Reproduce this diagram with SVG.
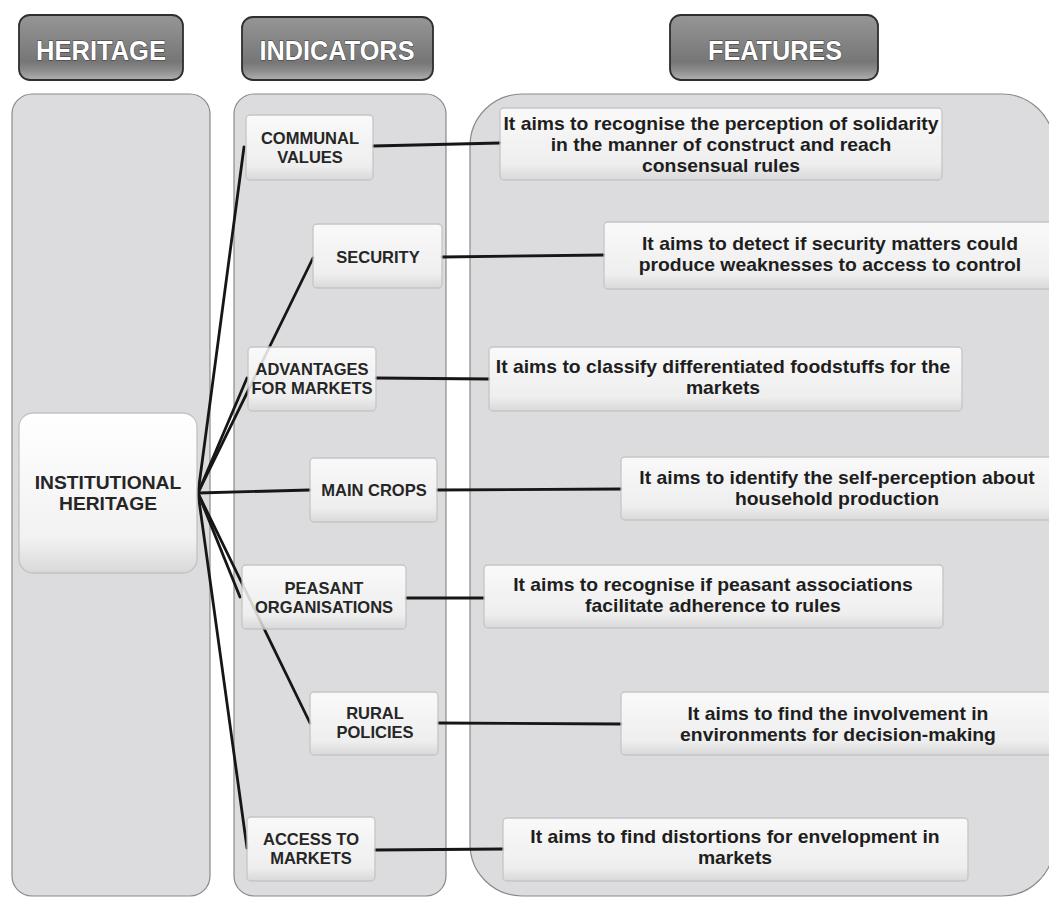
<svg xmlns="http://www.w3.org/2000/svg" width="1049" height="898" viewBox="0 0 1049 898">
<defs>
<linearGradient id="hdr" x1="0" y1="0" x2="0" y2="1">
<stop offset="0" stop-color="#969696"/>
<stop offset="0.72" stop-color="#767676"/>
<stop offset="0.85" stop-color="#8c8c8c"/>
<stop offset="1" stop-color="#b0b0b0"/>
</linearGradient>
<linearGradient id="box" x1="0" y1="0" x2="0" y2="1">
<stop offset="0" stop-color="#ffffff"/>
<stop offset="0.78" stop-color="#f2f2f2"/>
<stop offset="1" stop-color="#d8d8d8"/>
</linearGradient>
</defs>
<style>
.panel{fill:#dcdcde;stroke:#8a8a8a;stroke-width:1.2}
.hdr{fill:url(#hdr);stroke:#2e2e2e;stroke-width:1.8}
.hdrt{font-family:"Liberation Sans",Arial,sans-serif;font-weight:bold;font-size:28px;fill:#ffffff;stroke:#3a3a3a;stroke-width:1;paint-order:stroke;text-anchor:middle}
.nb{fill:url(#box);stroke:#c2c2c2;stroke-width:1.3;opacity:0.85}
.ind{font-family:"Liberation Sans",Arial,sans-serif;font-weight:bold;font-size:16.5px;fill:#262626;text-anchor:middle}
.ft{font-family:"Liberation Sans",Arial,sans-serif;font-weight:bold;font-size:18px;fill:#1e1e1e;text-anchor:middle}
.ln{stroke:#161616;stroke-width:2.8;fill:none;stroke-linecap:round}
</style>
<rect width="1049" height="898" fill="#ffffff"/>
<g id="panels">
<rect class="panel" x="12" y="94" width="198" height="802" rx="20"/>
<rect class="panel" x="234" y="94" width="212" height="802" rx="20"/>
<rect class="panel" x="470" y="94" width="584" height="802" rx="52"/>
</g>
<g id="header-heritage">
<rect class="hdr" x="19" y="15" width="164" height="65" rx="11"/>
<text class="hdrt" x="101" y="60" textLength="130" lengthAdjust="spacingAndGlyphs">HERITAGE</text>
</g>
<g id="header-indicators">
<rect class="hdr" x="242" y="17" width="191" height="63" rx="11"/>
<text class="hdrt" x="337" y="60" textLength="155" lengthAdjust="spacingAndGlyphs">INDICATORS</text>
</g>
<g id="header-features">
<rect class="hdr" x="670" y="15" width="208" height="65" rx="11"/>
<text class="hdrt" x="775" y="60" textLength="134" lengthAdjust="spacingAndGlyphs">FEATURES</text>
</g>
<g id="connectors">
<line class="ln" x1="198" y1="493" x2="244" y2="147"/>
<line class="ln" x1="198" y1="493" x2="313" y2="258"/>
<line class="ln" x1="198" y1="493" x2="247" y2="378"/>
<line class="ln" x1="198" y1="493" x2="310" y2="490"/>
<line class="ln" x1="198" y1="493" x2="240" y2="597"/>
<line class="ln" x1="198" y1="493" x2="310" y2="723"/>
<line class="ln" x1="198" y1="493" x2="247" y2="848"/>
<line class="ln" x1="373" y1="146" x2="500" y2="143"/>
<line class="ln" x1="442" y1="257" x2="604" y2="255"/>
<line class="ln" x1="376" y1="378" x2="489" y2="379"/>
<line class="ln" x1="437" y1="490" x2="621" y2="489"/>
<line class="ln" x1="406" y1="598" x2="484" y2="598"/>
<line class="ln" x1="438" y1="723" x2="621" y2="724"/>
<line class="ln" x1="375" y1="850" x2="503" y2="849"/>
</g>
<g id="institutional-heritage">
<rect class="nb" x="19" y="413" width="178" height="160" rx="14" style="opacity:1"/>
<g transform="translate(108,0) scale(1.07,1) translate(-108,0)">
<text class="ind" style="font-size:18px" x="108" y="489">INSTITUTIONAL</text>
<text class="ind" style="font-size:18px" x="108" y="510">HERITAGE</text>
</g>
</g>
<g id="communal-values">
<rect class="nb" x="246" y="115" width="127" height="65" rx="4"/>
<text class="ind" x="310" y="144">COMMUNAL</text>
<text class="ind" x="310" y="163">VALUES</text>
</g>
<g id="security">
<rect class="nb" x="313" y="224" width="129" height="64" rx="4"/>
<text class="ind" x="378" y="263">SECURITY</text>
</g>
<g id="advantages-for-markets">
<rect class="nb" x="248" y="347" width="128" height="64" rx="4"/>
<text class="ind" x="312" y="375">ADVANTAGES</text>
<text class="ind" x="312" y="394">FOR MARKETS</text>
</g>
<g id="main-crops">
<rect class="nb" x="310" y="458" width="127" height="64" rx="4"/>
<text class="ind" x="374" y="496">MAIN CROPS</text>
</g>
<g id="peasant-organisations">
<rect class="nb" x="242" y="565" width="164" height="64" rx="4"/>
<text class="ind" x="324" y="594">PEASANT</text>
<text class="ind" x="324" y="613">ORGANISATIONS</text>
</g>
<g id="rural-policies">
<rect class="nb" x="310" y="692" width="128" height="63" rx="4"/>
<text class="ind" x="375" y="719">RURAL</text>
<text class="ind" x="375" y="738">POLICIES</text>
</g>
<g id="access-to-markets">
<rect class="nb" x="247" y="817" width="128" height="64" rx="4"/>
<text class="ind" x="311" y="845">ACCESS TO</text>
<text class="ind" x="311" y="864">MARKETS</text>
</g>
<g id="feature-communal">
<rect class="nb" x="500" y="108" width="442" height="72" rx="4"/>
<g transform="translate(721,0) scale(1.075,1) translate(-721,0)">
<text class="ft" x="721" y="130">It aims to recognise the perception of solidarity</text>
<text class="ft" x="721" y="151">in the manner of construct and reach</text>
<text class="ft" x="721" y="172">consensual rules</text>
</g>
</g>
<g id="feature-security">
<rect class="nb" x="604" y="222" width="460" height="67" rx="4"/>
<g transform="translate(830,0) scale(1.075,1) translate(-830,0)">
<text class="ft" x="830" y="250">It aims to detect if security matters could</text>
<text class="ft" x="830" y="271">produce weaknesses to access to control</text>
</g>
</g>
<g id="feature-advantages">
<rect class="nb" x="489" y="347" width="473" height="64" rx="4"/>
<g transform="translate(723,0) scale(1.075,1) translate(-723,0)">
<text class="ft" x="723" y="373">It aims to classify differentiated foodstuffs for the</text>
<text class="ft" x="723" y="394">markets</text>
</g>
</g>
<g id="feature-crops">
<rect class="nb" x="621" y="457" width="440" height="63" rx="4"/>
<g transform="translate(837,0) scale(1.075,1) translate(-837,0)">
<text class="ft" x="837" y="484">It aims to identify the self-perception about</text>
<text class="ft" x="837" y="505">household production</text>
</g>
</g>
<g id="feature-peasant">
<rect class="nb" x="484" y="565" width="459" height="63" rx="4"/>
<g transform="translate(713,0) scale(1.075,1) translate(-713,0)">
<text class="ft" x="713" y="591">It aims to recognise if peasant associations</text>
<text class="ft" x="713" y="612">facilitate adherence to rules</text>
</g>
</g>
<g id="feature-rural">
<rect class="nb" x="621" y="692" width="440" height="63" rx="4"/>
<g transform="translate(838,0) scale(1.075,1) translate(-838,0)">
<text class="ft" x="838" y="720">It aims to find the involvement in</text>
<text class="ft" x="838" y="741">environments for decision-making</text>
</g>
</g>
<g id="feature-access">
<rect class="nb" x="503" y="818" width="465" height="63" rx="4"/>
<g transform="translate(735,0) scale(1.075,1) translate(-735,0)">
<text class="ft" x="735" y="843">It aims to find distortions for envelopment in</text>
<text class="ft" x="735" y="864">markets</text>
</g>
</g>
</svg>
